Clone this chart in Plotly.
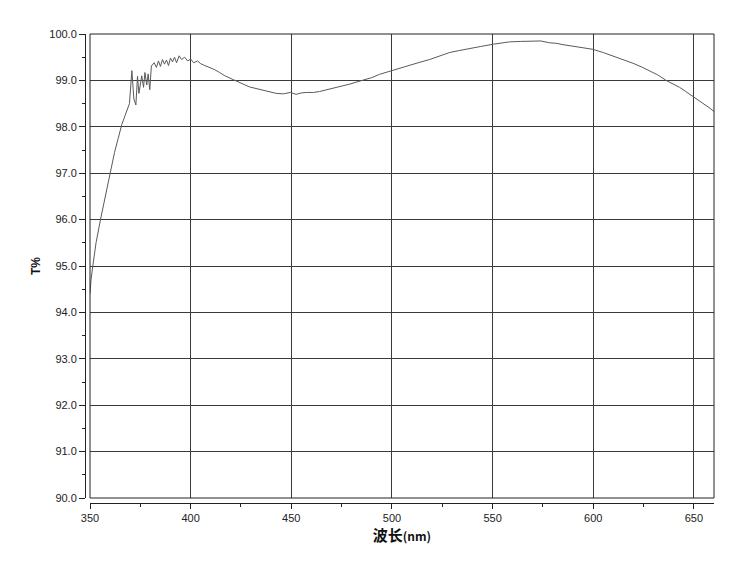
import plotly.graph_objects as go

wavelength = [350, 350.5, 351.4, 353, 355.2, 357.5, 360, 362.2, 364, 365.8, 367.5, 369.6,
              370.8, 371.8, 372.8, 373.6, 374.3, 375.7, 376.6, 377.3, 378.2, 378.9, 379.7,
              380.5, 381.9, 383, 384, 385, 386, 387, 388, 389, 390, 391, 392, 393, 394.3,
              395.5, 397, 398.5, 400, 401.5, 403.4, 405, 406.5, 408.4, 410, 412, 414.4,
              417, 421, 425, 429.2, 433, 437.5, 440, 442.5, 446, 449.6, 452.4, 455, 457.4,
              461, 464, 467, 470.6, 475, 479, 482, 485.5, 490, 493.8, 496, 499.9, 504,
              508.7, 513, 518.7, 523, 528.6, 533, 538.5, 544, 550.4, 554, 558.4, 564, 570,
              574, 578.3, 581.6, 585, 589.9, 595, 599.8, 605, 609.7, 615, 619.7, 624, 628,
              632, 636.2, 640, 642.9, 646, 650, 653, 656.1, 658, 660]
transmittance = [94.4, 94.7, 95.0, 95.5, 96.0, 96.5, 97.0, 97.45, 97.75, 98.05, 98.25, 98.5,
                 99.21, 98.6, 98.47, 99.09, 98.72, 99.1, 98.85, 99.17, 98.9, 99.14, 98.8,
                 99.31, 99.38, 99.28, 99.42, 99.3, 99.45, 99.35, 99.44, 99.32, 99.48, 99.4,
                 99.5, 99.38, 99.53, 99.45, 99.5, 99.42, 99.46, 99.38, 99.42, 99.36, 99.33,
                 99.30, 99.27, 99.23, 99.17, 99.10, 99.02, 98.95, 98.86, 98.82, 98.78, 98.75,
                 98.72, 98.71, 98.74, 98.70, 98.73, 98.74, 98.74, 98.76, 98.79, 98.83, 98.87,
                 98.92, 98.96, 99.0, 99.06, 99.13, 99.16, 99.20, 99.26, 99.33, 99.38, 99.45,
                 99.51, 99.60, 99.64, 99.69, 99.73, 99.78, 99.80, 99.83, 99.84, 99.85, 99.85,
                 99.81, 99.80, 99.77, 99.74, 99.71, 99.67, 99.60, 99.53, 99.45, 99.37, 99.29,
                 99.21, 99.12, 99.0, 98.92, 98.85, 98.76, 98.64, 98.55, 98.47, 98.40, 98.33]

x_ticks = [350, 400, 450, 500, 550, 600, 650]
y_ticks = [90, 91, 92, 93, 94, 95, 96, 97, 98, 99, 100]

fig = go.Figure()
fig.add_trace(go.Scatter(x=wavelength, y=transmittance, mode="lines",
                         line=dict(color="#5a5a5a", width=1), showlegend=False))

tick_font = dict(family="Liberation Sans, Arial, sans-serif", size=11, color="#222")
grid_col = "#3a3a3a"

fig.update_layout(
    width=744, height=574,
    margin=dict(l=77, r=38, t=26, b=79),
    paper_bgcolor="white", plot_bgcolor="white",
    xaxis=dict(
        range=[350, 660], domain=[5/629, 1], anchor="free", position=0,
        tickvals=x_ticks, ticktext=[str(v) for v in x_ticks],
        ticks="outside", ticklen=5, tickcolor="#222", tickwidth=1,
        showline=True, linecolor="#222", linewidth=1,
        showgrid=True, gridcolor=grid_col, gridwidth=1, zeroline=False,
        minor=dict(dtick=25, tick0=350, ticks="outside", ticklen=3, tickcolor="#222", showgrid=False),
        tickfont=tick_font,
        title=dict(text="<b>波长</b><b><span style='font-size:12px'>(nm)</span></b>",
                   font=dict(family="Noto Sans CJK SC, sans-serif", size=15, color="#111"),
                   standoff=4),
    ),
    yaxis=dict(
        range=[90, 100], domain=[5/469, 1], anchor="free", position=0,
        tickvals=y_ticks, ticktext=[f"{v:.1f}" for v in y_ticks],
        ticks="outside", ticklen=6, tickcolor="#222", tickwidth=1,
        showline=True, linecolor="#222", linewidth=1,
        showgrid=True, gridcolor=grid_col, gridwidth=1, zeroline=False,
        minor=dict(dtick=0.5, tick0=90, ticks="outside", ticklen=3, tickcolor="#222", showgrid=False),
        tickfont=tick_font,
        title=dict(text="<b>T%</b>", font=dict(family="Liberation Sans, Arial, sans-serif", size=12, color="#111"),
                   standoff=5),
    ),
    shapes=[dict(type="rect", xref="x domain", yref="y domain", x0=0, x1=1, y0=0, y1=1,
                 line=dict(color="#222", width=1), fillcolor="rgba(0,0,0,0)", layer="above")],
)

fig.write_html("out.html")
